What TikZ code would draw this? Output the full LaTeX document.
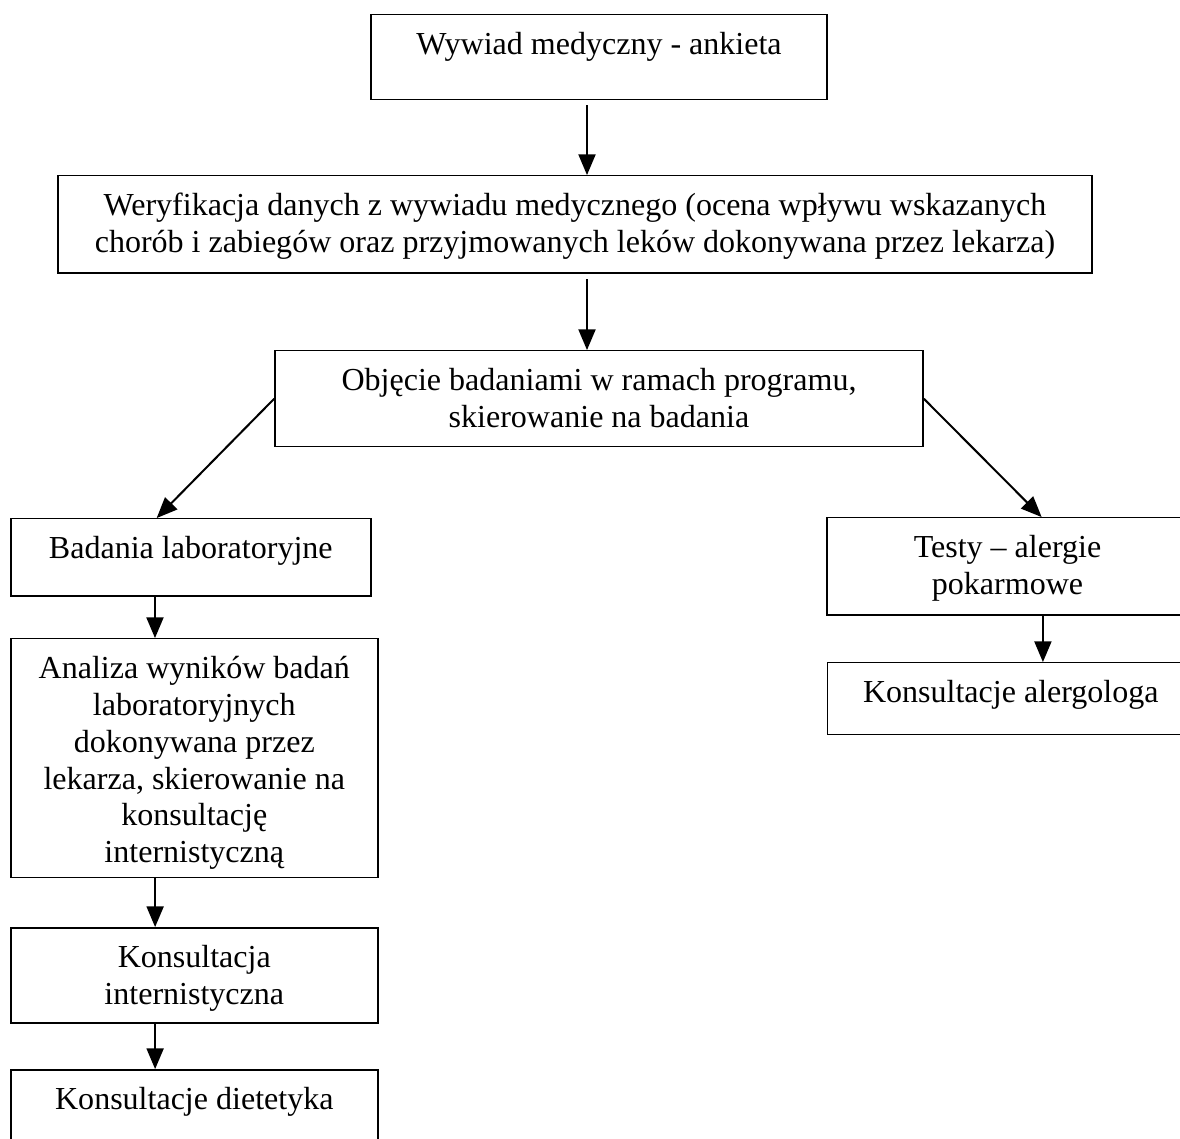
\documentclass[tikz,border=0pt]{standalone}
\usepackage{fontspec}
\setmainfont{Liberation Serif}
\usepackage{tikz}
\usetikzlibrary{arrows}

\begin{document}
\begin{tikzpicture}[->,>=triangle 45,x=0.37pt,y=-0.37pt,line width=0.75pt,
                    main node/.style={draw,rectangle,line width=0.55pt,anchor=north,align=center,
                    inner ysep=0pt,text height=14.8pt,font=\fontsize{11.85}{13.6}\selectfont}]

\useasboundingbox (0,0) rectangle (1180,1138);
\clip (0,0) rectangle (1180,1138);

\node[main node,minimum width=168.7pt,text depth=16.65pt] (1) at (599,14) {Wywiad medyczny - ankieta};
\node[main node,minimum width=382.6pt,text height=28.4pt,text depth=7.5pt] (2) at (575,175)
  {Weryfikacja danych z wywiadu medycznego (ocena wpływu wskazanych\\chorób i zabiegów oraz przyjmowanych leków dokonywana przez lekarza)};
\node[main node,minimum width=239.8pt,text height=28.4pt,text depth=7.1pt] (3) at (599,350)
  {Objęcie badaniami w ramach programu,\\skierowanie na badania};
\node[main node,minimum width=133.2pt,text depth=13.7pt] (4) at (190.8,518) {Badania laboratoryjne};
\node[main node,minimum width=135.8pt,text height=82.8pt,text depth=5.6pt] (5) at (194.3,638)
  {Analiza wyników badań\\laboratoryjnych\\dokonywana przez\\lekarza, skierowanie na\\konsultację\\internistyczną};
\node[main node,minimum width=135.8pt,text height=28.4pt,text depth=6.75pt] (6) at (194.3,927) {Konsultacja\\internistyczna};
\node[main node,minimum width=135.8pt,text depth=14pt] (7) at (194.3,1069) {Konsultacje dietetyka};
\node[main node,minimum width=133.6pt,text height=28.4pt,text depth=7.5pt] (8) at (1007.5,517) {Testy – alergie\\pokarmowe};
\node[main node,minimum width=135.8pt,text depth=11.8pt] (9) at (1010.8,662) {Konsultacje alergologa};

\path
([xshift=-4.44pt]1.south) edge[shorten <=1.85pt] ([xshift=-4.44pt]1.south |- 2.north)
([xshift=4.44pt]2.south) edge[shorten <=2.2pt] ([xshift=4.44pt]2.south |- 3.north)
(3.west) edge ([xshift=-12.6pt]4.north)
(3.east) edge ([xshift=12.6pt]8.north)
([xshift=-13.25pt]4.south) edge ([xshift=-13.25pt]4.south |- 5.north)
([xshift=-14.5pt]5.south) edge ([xshift=-14.5pt]5.south |- 6.north)
([xshift=-14.5pt]6.south) edge ([xshift=-14.5pt]6.south |- 7.north)
([xshift=13.1pt]8.south) edge ([xshift=13.1pt]8.south |- 9.north);
\end{tikzpicture}
\end{document}
